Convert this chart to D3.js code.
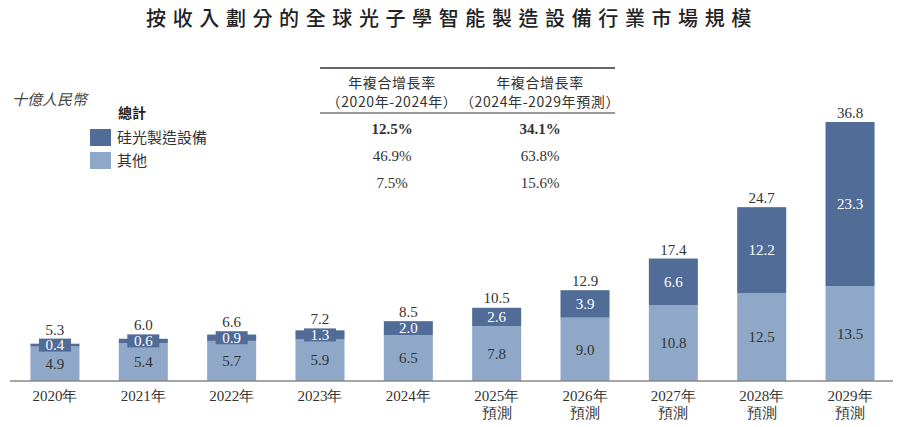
<!DOCTYPE html>
<html><head><meta charset="utf-8">
<script src="https://cdn.jsdelivr.net/npm/d3@7"></script>
<style>
body{margin:0;background:#fff;}
svg{display:block;}
</style></head>
<body><svg id="c" width="900" height="427"></svg>
<script>
const years = ["2020年","2021年","2022年","2023年","2024年","2025年","2026年","2027年","2028年","2029年"];
const forecast = [false,false,false,false,false,true,true,true,true,true];
const silicon = [0.4,0.6,0.9,1.3,2.0,2.6,3.9,6.6,12.2,23.3];
const others = [4.9,5.4,5.7,5.9,6.5,7.8,9.0,10.8,12.5,13.5];
const totals = [5.3,6.0,6.6,7.2,8.5,10.5,12.9,17.4,24.7,36.8];
const seriesNames = ["硅光製造設備","其他"];
const cagrHeaders = [["年複合增長率","（2020年-2024年）"],["年複合增長率","（2024年-2029年預測）"]];
const cagr1 = ["12.5%","46.9%","7.5%"];
const cagr2 = ["34.1%","63.8%","15.6%"];

const svg = d3.select("#c");
const DARK = "#506c97", LIGHT = "#8fa8c7", TXT = "#333";
const SERIF = "'Liberation Serif','Times New Roman',serif";
const SANS = "'Noto Sans CJK TC','Noto Sans CJK SC',sans-serif";

const x = d3.scaleBand().domain(years).range([10.8, 894.2]).paddingInner(0.445).paddingOuter(0.2225);
const y = d3.scaleLinear().domain([0, 36.8]).range([381, 122]);

// title
svg.append("text").attr("x", 452).attr("y", 26).attr("text-anchor","middle")
  .attr("font-family", SANS).attr("font-size", 20).attr("font-weight", 500)
  .attr("letter-spacing", 6.6).attr("fill","#222")
  .text("按收入劃分的全球光子學智能製造設備行業市場規模");

// unit
svg.append("text").attr("x", 12).attr("y", 105).attr("font-family", SANS)
  .attr("font-size", 15).attr("font-style","italic").attr("fill","#444").text("十億人民幣");

// legend
svg.append("text").attr("x", 118).attr("y", 118).attr("font-family", SANS)
  .attr("font-size", 14).attr("font-weight", 700).attr("fill","#222").text("總計");
const lg = svg.append("g");
[DARK, LIGHT].forEach((c,i)=>{
  lg.append("rect").attr("x",90).attr("y",129 + i*23).attr("width",21).attr("height",17).attr("fill",c);
  lg.append("text").attr("x",117).attr("y",143 + i*23).attr("font-family",SANS).attr("font-size",15)
    .attr("fill","#333").text(seriesNames[i]);
});

// CAGR table
const tb = svg.append("g");
tb.append("line").attr("x1",320).attr("x2",615).attr("y1",68).attr("y2",68).attr("stroke","#333").attr("stroke-width",1.5);
tb.append("line").attr("x1",320).attr("x2",615).attr("y1",113).attr("y2",113).attr("stroke","#333").attr("stroke-width",1);
const colX = [392, 540];
cagrHeaders.forEach((h,i)=>{
  tb.append("text").attr("x",colX[i]).attr("y",88).attr("text-anchor","middle").attr("font-family",SANS)
    .attr("font-size",14).attr("letter-spacing",0.6).attr("fill","#333").text(h[0]);
  tb.append("text").attr("x",colX[i]).attr("y",107).attr("text-anchor","middle").attr("font-family",SANS)
    .attr("font-size",14).attr("letter-spacing",0.6).attr("fill","#333").text(h[1]);
});
[cagr1, cagr2].forEach((col,i)=>{
  col.forEach((v,j)=>{
    tb.append("text").attr("x",colX[i]).attr("y",134 + j*27).attr("text-anchor","middle")
      .attr("font-family",SERIF).attr("font-size",15).attr("font-weight", j===0?700:400)
      .attr("fill","#333").text(v);
  });
});

// bars
const g = svg.append("g");
const bw = x.bandwidth();
years.forEach((yr,i)=>{
  const x0 = x(yr), cx = x0 + bw/2;
  const yO = y(others[i]), yT = y(others[i] + silicon[i]);
  g.append("rect").attr("x",x0).attr("y",yO).attr("width",bw).attr("height",y(0)-yO).attr("fill",LIGHT);
  g.append("rect").attr("x",x0).attr("y",yT).attr("width",bw).attr("height",yO-yT).attr("fill",DARK);
  const segH = yO - yT, segC = (yO + yT)/2;
  if (segH < 13) {
    g.append("rect").attr("x",cx-16).attr("y",segC-6.5).attr("width",32).attr("height",13).attr("fill",DARK);
  }
  g.append("text").attr("x",cx).attr("y",segC).attr("dy","0.35em").attr("text-anchor","middle")
    .attr("font-family",SERIF).attr("font-size",15).attr("fill","#fff").text(silicon[i].toFixed(1));
  g.append("text").attr("x",cx).attr("y",(yO + y(0))/2).attr("dy","0.35em").attr("text-anchor","middle")
    .attr("font-family",SERIF).attr("font-size",15).attr("fill",TXT).text(others[i].toFixed(1));
  const topY = Math.min(y(totals[i]), segH < 13 ? segC-6.5 : yT);
  g.append("text").attr("x",cx).attr("y",topY - 4).attr("text-anchor","middle")
    .attr("font-family",SERIF).attr("font-size",15).attr("fill",TXT).text(totals[i].toFixed(1));
});

// axis
const ax = svg.append("g").attr("transform","translate(0,381)")
  .call(d3.axisBottom(x).tickSize(0).tickPadding(6));
ax.select(".domain").remove();
ax.append("line").attr("x1",10).attr("x2",893).attr("stroke","#888").attr("stroke-width",1.5);
ax.selectAll(".tick text").attr("font-family",SERIF).attr("font-size",15).attr("fill",TXT).attr("dy","0.9em");
ax.selectAll(".tick").each(function(d,i){
  if (forecast[i]) d3.select(this).append("text").attr("y",23).attr("dy","0.9em").attr("text-anchor","middle")
    .attr("font-family",SERIF).attr("font-size",15).attr("fill",TXT).text("預測");
});
</script></body></html>
